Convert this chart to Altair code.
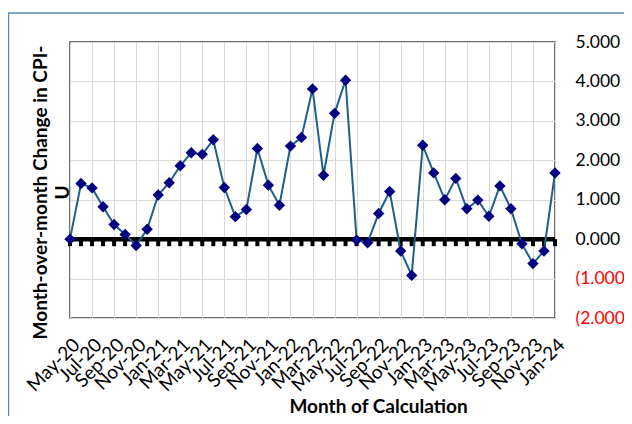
import altair as alt
import pandas as pd

months = ["May-20", "Jun-20", "Jul-20", "Aug-20", "Sep-20", "Oct-20", "Nov-20", "Dec-20",
          "Jan-21", "Feb-21", "Mar-21", "Apr-21", "May-21", "Jun-21", "Jul-21", "Aug-21",
          "Sep-21", "Oct-21", "Nov-21", "Dec-21",
          "Jan-22", "Feb-22", "Mar-22", "Apr-22", "May-22", "Jun-22", "Jul-22", "Aug-22",
          "Sep-22", "Oct-22", "Nov-22", "Dec-22",
          "Jan-23", "Feb-23", "Mar-23", "Apr-23", "May-23", "Jun-23", "Jul-23", "Aug-23",
          "Sep-23", "Oct-23", "Nov-23", "Dec-23",
          "Jan-24"]
values = [0.00, 1.41, 1.30, 0.82, 0.37, 0.12, -0.16, 0.25,
          1.12, 1.43, 1.86, 2.19, 2.15, 2.52, 1.31, 0.57, 0.75, 2.30, 1.37, 0.86,
          2.36, 2.58, 3.81, 1.62, 3.19, 4.03, -0.02, -0.09, 0.65, 1.21, -0.30, -0.92,
          2.38, 1.68, 1.00, 1.54, 0.77, 0.99, 0.58, 1.35, 0.77, -0.12, -0.62, -0.30,
          1.68]
x_tick_labels = months[::2]
y_ticks = [-2, -1, 0, 1, 2, 3, 4, 5]
y_domain = [-2, 5]
y_title = ["Month-over-month Change in CPI-", "U"]
x_title = "Month of Calculation"

df = pd.DataFrame({"month": months, "value": values, "zero": [0] * len(months)})
zero_df = pd.DataFrame({"y": [0]})
one_df = pd.DataFrame({"a": [0]})

FONT = "Lato"
GRID = "#D9D9D9"

yscale = alt.Scale(domain=y_domain, nice=False, zero=False)

x_axis = alt.Axis(
    values=x_tick_labels, title=x_title, grid=True, gridColor=GRID, gridWidth=1,
    ticks=False, domain=False, labelAngle=315, labelAlign="right", labelBaseline="top",
    labelPadding=17, labelFont=FONT, labelFontSize=19, labelColor="black",
    labelOverlap=False, labelBound=False, labelFlush=False,
    titleFont=FONT, titleFontWeight="bold", titleFontSize=19, titleColor="black",
    titleX=308, titleY=94, titleAlign="center", titleBaseline="alphabetic",
)
x_enc = alt.X("month:N", sort=months, scale=alt.Scale(type="point", padding=0), axis=x_axis)

right_axis = alt.Axis(
    orient="right", values=y_ticks, title=None, grid=True, gridColor=GRID, gridWidth=1,
    ticks=False, domain=False, labelPadding=20, labelFont=FONT, labelFontSize=17.5,
    labelColor={"condition": {"test": "datum.value < 0", "value": "#FF0000"}, "value": "#000000"},
    labelExpr="datum.value < 0 ? '(' + format(-datum.value, '.3f') + ')' : format(datum.value, '.3f')",
)

left_axis = alt.Axis(
    orient="left", title=y_title, labels=False, ticks=False, domain=False, grid=False,
    titleFont=FONT, titleFontWeight="bold", titleFontSize=19, titleColor="black",
    titleAngle=270, titleX=-24, titleY=150, titleAlign="center", titleBaseline="alphabetic",
    titleLineHeight=22,
)

zero_line = alt.Chart(zero_df).mark_rule(color="black", strokeWidth=4.5).encode(
    y=alt.Y("y:Q", scale=yscale, axis=left_axis)
)

zero_ticks = alt.Chart(df).mark_tick(
    orient="vertical", color="black", thickness=4, size=7, yOffset=3.5, opacity=1
).encode(x=x_enc, y=alt.Y("zero:Q", scale=yscale, axis=None))

line = alt.Chart(df).mark_line(color="#1F5F8B", strokeWidth=2).encode(
    x=x_enc, y=alt.Y("value:Q", scale=yscale, axis=right_axis)
)

points = alt.Chart(df).mark_point(
    shape="diamond", filled=True, color="#000080", size=130, opacity=1
).encode(x=x_enc, y=alt.Y("value:Q", scale=yscale, axis=None))

frame_top = alt.Chart(one_df).mark_rule(color="#5B87BF", strokeWidth=1.5).encode(
    x=alt.value(-62), x2=alt.value(560), y=alt.value(-29)
)
frame_left = alt.Chart(one_df).mark_rule(color="#5B87BF", strokeWidth=1.5).encode(
    x=alt.value(-61.5), y=alt.value(-29), y2=alt.value(380)
)

chart = (
    alt.layer(frame_top, frame_left, zero_line, zero_ticks, line, points)
    .resolve_axis(y="independent")
    .properties(
        width=485, height=276,
        padding={"left": 62, "top": 34, "right": 69, "bottom": 98},
        autosize=alt.AutoSizeParams(type="none"),
        background="white",
    )
    .configure_view(stroke="#404040", strokeWidth=1.5)
)

chart.save("out.html", embed_options={"renderer": "svg", "actions": False})
